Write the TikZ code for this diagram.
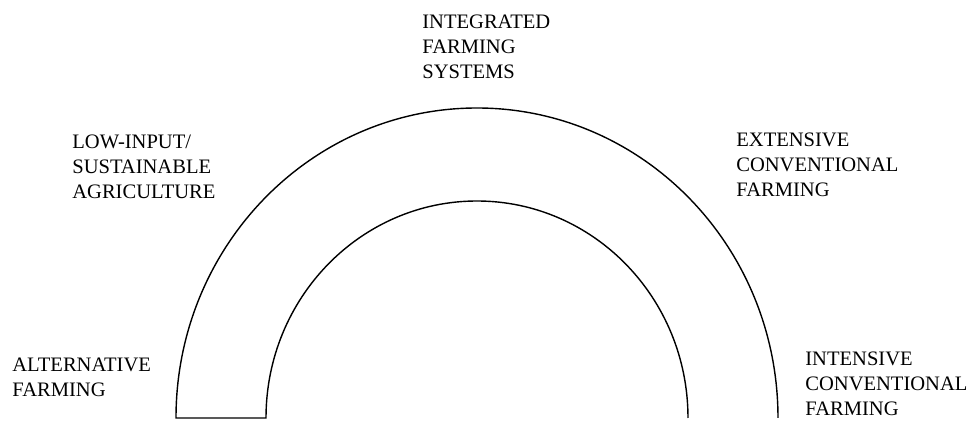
\documentclass[tikz,border=0pt]{standalone}
\usepackage{fontspec}
\setmainfont{Liberation Serif}
\newcommand{\lblfont}{\fontsize{11.7pt}{14.2pt}\selectfont}
\tikzset{
  farmlabel/.style={anchor=north west, inner sep=0pt, align=left, font=\lblfont},
  band/.style={line width=0.8pt}
}
\begin{document}
\begin{tikzpicture}[x=0.02cm, y=0.02cm]
        \useasboundingbox (0,0) rectangle (975,422);

        % Halbring (aussen, unten links geschlossen, innen)
        \draw[band] (778,4) arc[start angle=0, end angle=180, x radius=301, y radius=310]
              -- (266,4) arc[start angle=180, end angle=0, x radius=211, y radius=217];

        % Beschriftungen
        \node[farmlabel] (integ)  at (422,407) {INTEGRATED\\FARMING\\SYSTEMS};
        \node[farmlabel] (lowinp) at (72,287)  {LOW-INPUT/\\SUSTAINABLE\\AGRICULTURE};
        \node[farmlabel] (extens) at (736,289) {EXTENSIVE\\CONVENTIONAL\\FARMING};
        \node[farmlabel] (altern) at (12,64)   {ALTERNATIVE\\FARMING};
        \node[farmlabel] (intens) at (805,70)  {INTENSIVE\\CONVENTIONAL\\FARMING};
    \end{tikzpicture}
\end{document}
